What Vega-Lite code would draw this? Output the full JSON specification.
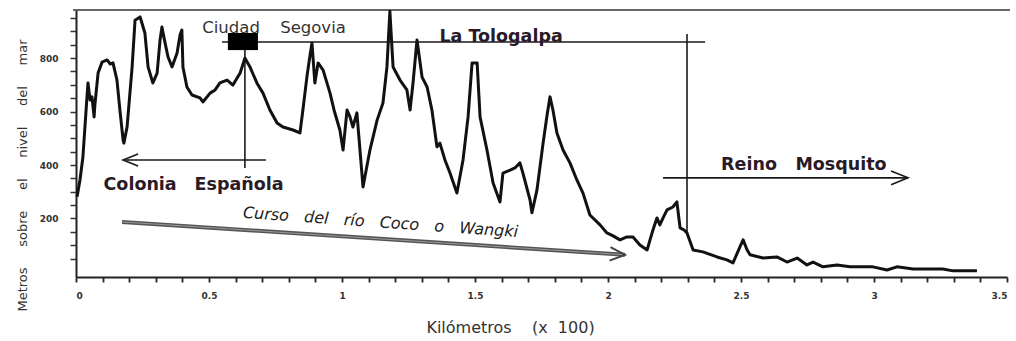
{
  "$schema": "https://vega.github.io/schema/vega-lite/v6.json",
  "width": 931,
  "height": 267,
  "autosize": {"type": "none"},
  "padding": {"left": 76, "top": 10, "right": 9, "bottom": 64},
  "background": "white",
  "config": {"view": {"stroke": null}, "font": "DejaVu Sans"},
  "datasets": {
    "profile": [
      {"x":0.004,"y":281},{"x":0.015,"y":344},{"x":0.026,"y":430},{"x":0.038,"y":606},{"x":0.045,"y":707},{"x":0.053,"y":643},{"x":0.060,"y":655},{"x":0.068,"y":580},{"x":0.071,"y":625},{"x":0.083,"y":744},{"x":0.098,"y":785},{"x":0.117,"y":793},{"x":0.128,"y":778},{"x":0.139,"y":782},{"x":0.154,"y":718},{"x":0.165,"y":606},{"x":0.177,"y":494},{"x":0.180,"y":482},{"x":0.192,"y":542},{"x":0.211,"y":767},{"x":0.222,"y":942},{"x":0.241,"y":954},{"x":0.259,"y":894},{"x":0.271,"y":767},{"x":0.289,"y":707},{"x":0.305,"y":744},{"x":0.316,"y":868},{"x":0.323,"y":916},{"x":0.335,"y":856},{"x":0.346,"y":804},{"x":0.361,"y":767},{"x":0.380,"y":819},{"x":0.391,"y":886},{"x":0.398,"y":905},{"x":0.402,"y":767},{"x":0.417,"y":692},{"x":0.436,"y":662},{"x":0.466,"y":651},{"x":0.477,"y":636},{"x":0.504,"y":669},{"x":0.523,"y":681},{"x":0.541,"y":707},{"x":0.568,"y":718},{"x":0.590,"y":699},{"x":0.617,"y":744},{"x":0.635,"y":800},{"x":0.654,"y":767},{"x":0.680,"y":707},{"x":0.703,"y":669},{"x":0.729,"y":606},{"x":0.756,"y":557},{"x":0.778,"y":542},{"x":0.816,"y":531},{"x":0.842,"y":520},{"x":0.853,"y":606},{"x":0.868,"y":729},{"x":0.880,"y":812},{"x":0.887,"y":856},{"x":0.898,"y":707},{"x":0.910,"y":782},{"x":0.929,"y":755},{"x":0.955,"y":669},{"x":0.970,"y":606},{"x":0.992,"y":531},{"x":1.004,"y":456},{"x":1.019,"y":606},{"x":1.030,"y":580},{"x":1.041,"y":542},{"x":1.056,"y":595},{"x":1.079,"y":318},{"x":1.105,"y":456},{"x":1.132,"y":568},{"x":1.154,"y":632},{"x":1.169,"y":767},{"x":1.180,"y":975},{"x":1.192,"y":767},{"x":1.218,"y":718},{"x":1.244,"y":681},{"x":1.256,"y":606},{"x":1.267,"y":707},{"x":1.282,"y":868},{"x":1.301,"y":729},{"x":1.320,"y":692},{"x":1.338,"y":606},{"x":1.357,"y":468},{"x":1.368,"y":482},{"x":1.387,"y":419},{"x":1.406,"y":370},{"x":1.432,"y":295},{"x":1.455,"y":419},{"x":1.474,"y":580},{"x":1.489,"y":782},{"x":1.508,"y":782},{"x":1.519,"y":580},{"x":1.545,"y":456},{"x":1.568,"y":333},{"x":1.594,"y":262},{"x":1.605,"y":370},{"x":1.632,"y":381},{"x":1.650,"y":389},{"x":1.669,"y":408},{"x":1.680,"y":370},{"x":1.707,"y":269},{"x":1.714,"y":221},{"x":1.733,"y":307},{"x":1.756,"y":482},{"x":1.771,"y":587},{"x":1.782,"y":655},{"x":1.793,"y":606},{"x":1.808,"y":520},{"x":1.831,"y":456},{"x":1.857,"y":408},{"x":1.883,"y":344},{"x":1.906,"y":295},{"x":1.932,"y":213},{"x":1.970,"y":176},{"x":1.996,"y":146},{"x":2.019,"y":135},{"x":2.045,"y":120},{"x":2.071,"y":131},{"x":2.094,"y":131},{"x":2.120,"y":101},{"x":2.147,"y":82},{"x":2.158,"y":120},{"x":2.169,"y":157},{"x":2.184,"y":202},{"x":2.195,"y":176},{"x":2.207,"y":202},{"x":2.222,"y":232},{"x":2.244,"y":243},{"x":2.259,"y":262},{"x":2.271,"y":165},{"x":2.286,"y":157},{"x":2.297,"y":146},{"x":2.320,"y":82},{"x":2.357,"y":75},{"x":2.410,"y":56},{"x":2.447,"y":45},{"x":2.470,"y":34},{"x":2.496,"y":94},{"x":2.508,"y":120},{"x":2.523,"y":82},{"x":2.534,"y":64},{"x":2.583,"y":52},{"x":2.635,"y":56},{"x":2.673,"y":37},{"x":2.711,"y":52},{"x":2.748,"y":26},{"x":2.771,"y":37},{"x":2.808,"y":19},{"x":2.861,"y":26},{"x":2.910,"y":19},{"x":2.996,"y":19},{"x":3.049,"y":7},{"x":3.086,"y":19},{"x":3.147,"y":11},{"x":3.259,"y":11},{"x":3.297,"y":4},{"x":3.387,"y":4}
    ],
    "lines": [
      {"x":0.549,"y":860,"x2":2.365,"y2":860},
      {"x":2.297,"y":890,"x2":2.297,"y2":140},
      {"x":0.635,"y":834,"x2":0.635,"y2":389},
      {"x":0.177,"y":419,"x2":0.714,"y2":419},
      {"x":2.207,"y":352,"x2":3.128,"y2":352}
    ],
    "frame": [{"x":-0.011,"y":980,"x2":3.511,"y2":980}],
    "river": [{"x":0.173,"y":187,"x2":2.064,"y2":64}],
    "headLeft": [{"x":0.177,"y":419}],
    "headRight": [{"x":3.128,"y":352}],
    "headRiver": [{"x":2.064,"y":64}],
    "box": [{"x":0.571,"x2":0.684,"y":894,"y2":830}],
    "boldText": [
      {"x":0.241,"y":325,"text":"Colonia"},
      {"x":0.613,"y":325,"text":"Española"},
      {"x":1.598,"y":879,"text":"La\u00a0Tologalpa"},
      {"x":2.530,"y":400,"text":"Reino"},
      {"x":2.876,"y":400,"text":"Mosquito"}
    ],
    "regText": [
      {"x":0.583,"y":913,"text":"Ciudad"},
      {"x":0.891,"y":913,"text":"Segovia"}
    ],
    "italicText": [
      {"x":0.628,"y":221,"text":"Curso\u00a0\u00a0\u00a0del\u00a0\u00a0\u00a0río\u00a0\u00a0\u00a0Coco\u00a0\u00a0\u00a0o\u00a0\u00a0\u00a0Wangki"}
    ]
  },
  "encoding": {
    "x": {
      "field": "x", "type": "quantitative",
      "scale": {"domain": [0, 3.5], "nice": false, "zero": false},
      "axis": {
        "title": "Kilómetros\u00a0\u00a0\u00a0\u00a0(x\u00a0\u00a0100)",
        "values": [0,0.1,0.2,0.3,0.4,0.5,0.6,0.7,0.8,0.9,1,1.1,1.2,1.3,1.4,1.5,1.6,1.7,1.8,1.9,2,2.1,2.2,2.3,2.4,2.5,2.6,2.7,2.8,2.9,3,3.1,3.2,3.3,3.4,3.5],
        "labelExpr": "abs(datum.value*2 - round(datum.value*2)) < 0.000001 ? '' + datum.value : ''",
        "grid": false,
        "domainColor": "#222",
        "domainWidth": 2,
        "tickColor": "#222",
        "tickWidth": 1.8,
        "tickSize": 5,
        "labelFontSize": 9,
        "labelFontWeight": "bold",
        "labelColor": "#333",
        "labelPadding": 9,
        "titleFontSize": 16,
        "titleFontWeight": "normal",
        "titleColor": "#333",
        "titleX": 434,
        "titleY": 50,
        "titleBaseline": "middle"
      }
    },
    "y": {
      "field": "y", "type": "quantitative",
      "scale": {"domain": [-19, 980], "nice": false, "zero": false},
      "axis": {
        "title": "Metros\u00a0\u00a0\u00a0\u00a0\u00a0sobre\u00a0\u00a0\u00a0\u00a0\u00a0el\u00a0\u00a0\u00a0\u00a0\u00a0nivel\u00a0\u00a0\u00a0\u00a0\u00a0del\u00a0\u00a0\u00a0\u00a0\u00a0mar",
        "values": [50,100,150,200,250,300,350,400,450,500,550,600,650,700,750,800,850,900,950],
        "labelExpr": "datum.value % 200 === 0 ? '' + datum.value : ''",
        "grid": false,
        "domainColor": "#222",
        "domainWidth": 2,
        "tickColor": "#333",
        "tickWidth": 1.5,
        "tickSize": 6,
        "labelFontSize": 9,
        "labelFontWeight": "bold",
        "labelColor": "#333",
        "labelPadding": 12,
        "titleFontSize": 13,
        "titleFontWeight": "normal",
        "titleColor": "#333",
        "titleAngle": 270,
        "titleX": -54,
        "titleY": 165,
        "titleAlign": "center",
        "titleBaseline": "middle"
      }
    }
  },
  "layer": [
    {"data": {"name": "frame"}, "mark": {"type": "rule", "color": "#333", "strokeWidth": 1.5}, "encoding": {"x2": {"field": "x2"}, "y2": {"field": "y2"}}},
    {"data": {"name": "river"}, "mark": {"type": "rule", "color": "#555", "strokeWidth": 4}, "encoding": {"x2": {"field": "x2"}, "y2": {"field": "y2"}}},
    {"data": {"name": "river"}, "mark": {"type": "rule", "color": "#999", "strokeWidth": 1}, "encoding": {"x2": {"field": "x2"}, "y2": {"field": "y2"}}},
    {"data": {"name": "lines"}, "mark": {"type": "rule", "color": "#1a1a1a", "strokeWidth": 1.6}, "encoding": {"x2": {"field": "x2"}, "y2": {"field": "y2"}}},
    {"data": {"name": "headLeft"}, "mark": {"type": "point", "shape": "M-1,-0.4L0,0L-1,0.4", "filled": false, "stroke": "#1a1a1a", "strokeWidth": 1.6, "size": 900, "angle": 180, "opacity": 1}},
    {"data": {"name": "headRight"}, "mark": {"type": "point", "shape": "M-1,-0.4L0,0L-1,0.4", "filled": false, "stroke": "#1a1a1a", "strokeWidth": 1.6, "size": 1156, "angle": 0, "opacity": 1}},
    {"data": {"name": "headRiver"}, "mark": {"type": "point", "shape": "M-1,-0.45L0,0L-1,0.45", "filled": false, "stroke": "#444", "strokeWidth": 2, "size": 900, "angle": 3.75, "opacity": 1}},
    {"data": {"name": "box"}, "mark": {"type": "rect", "color": "#000"}, "encoding": {"x2": {"field": "x2"}, "y2": {"field": "y2"}}},
    {"data": {"name": "profile"}, "mark": {"type": "line", "color": "#111", "strokeWidth": 3, "strokeJoin": "round"}},
    {"data": {"name": "boldText"}, "mark": {"type": "text", "font": "DejaVu Sans", "fontSize": 17.5, "fontWeight": "bold", "color": "#2a1a28", "align": "center", "baseline": "middle"}, "encoding": {"text": {"field": "text"}}},
    {"data": {"name": "regText"}, "mark": {"type": "text", "font": "DejaVu Sans", "fontSize": 16.5, "color": "#333", "align": "center", "baseline": "middle"}, "encoding": {"text": {"field": "text"}}},
    {"data": {"name": "italicText"}, "mark": {"type": "text", "font": "DejaVu Sans", "fontSize": 16, "fontStyle": "italic", "color": "#222", "align": "left", "baseline": "middle", "angle": 4}, "encoding": {"text": {"field": "text"}}}
  ]
}
